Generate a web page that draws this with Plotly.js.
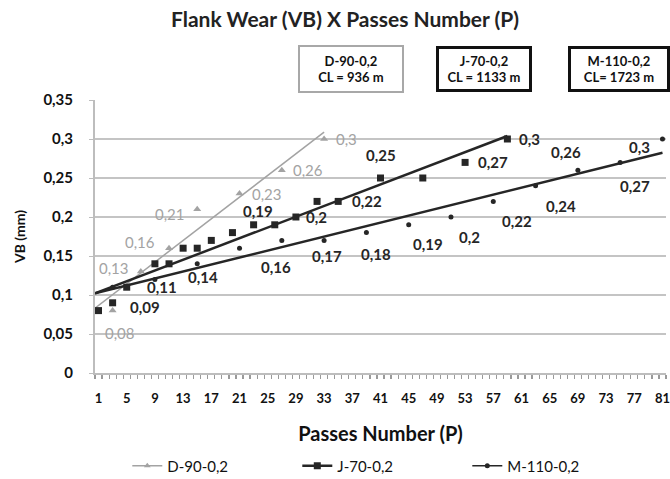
<!DOCTYPE html>
<html>
<head>
<meta charset="utf-8">
<script src="https://cdn.plot.ly/plotly-3.0.1.min.js"></script>
<style>
  html, body { margin: 0; padding: 0; background: #fff; }
  #chart { width: 670px; height: 479px; }
</style>
</head>
<body>
<div id="chart"></div>
<script>
// Flank wear VB (mm) measured against the number of passes, three tools.
const seriesNames = ['D-90-0,2', 'J-70-0,2', 'M-110-0,2'];

const passD = [3, 7, 11, 15, 21, 27, 33];
const vbD   = [0.08, 0.13, 0.16, 0.21, 0.23, 0.26, 0.30];

const passJ = [1, 3, 5, 9, 11, 13, 15, 17, 20, 23, 26, 29, 32, 35, 41, 47, 53, 59];
const vbJ   = [0.08, 0.09, 0.11, 0.14, 0.14, 0.16, 0.16, 0.17, 0.18, 0.19, 0.19, 0.20, 0.22, 0.22, 0.25, 0.25, 0.27, 0.30];

const passM = [3, 9, 15, 21, 27, 33, 39, 45, 51, 57, 63, 69, 75, 81];
const vbM   = [0.11, 0.12, 0.14, 0.16, 0.17, 0.17, 0.18, 0.19, 0.20, 0.22, 0.24, 0.26, 0.27, 0.30];

// which points carry a value label
const showD = [1, 1, 1, 1, 1, 1, 1];
const showJ = [0, 1, 1, 0, 0, 0, 0, 0, 0, 1, 0, 1, 0, 1, 1, 0, 1, 1];
const showM = [0, 0, 1, 1, 0, 1, 1, 1, 1, 1, 1, 1, 1, 1];

// tool-life boxes
const boxText = ['D-90-0,2<br>CL = 936 m', 'J-70-0,2<br>CL = 1133 m', 'M-110-0,2<br>CL= 1723 m'];

const xTickVals = [1, 5, 9, 13, 17, 21, 25, 29, 33, 37, 41, 45, 49, 53, 57, 61, 65, 69, 73, 77, 81];
const yTickVals = [0, 0.05, 0.1, 0.15, 0.2, 0.25, 0.3, 0.35];

// ---- label placement (pixel offsets from each point) ----
const offD = [[7, 22], [-27, -4], [-29, -6], [-27, 5], [27, 0], [26, 0], [22, 0]];
const offJ = [null, [32, 4], [35, 0], null, null, null, null, null, null, [4, -14], null, [21, 0], null, [29, 0], [0, -23], null, [28, 0], [22, 0]];
const offM = [null, null, [6, 13], [36, 19], null, [3, 16], [10, 21], [19, 19], [19, 20], [24, 20], [25, 20], [-12, -18], [15, 24], [-23, 8]];

const FONT = 'Lato, "Open Sans", Arial, sans-serif';
const GREY = '#a3a3a3';
const DARK = '#262626';

function fmt(v) { return String(+v.toFixed(2)).replace('.', ','); }

// least-squares line through a series, drawn from the axis start to the last pass
function trend(px, vy) {
  const n = px.length;
  const mx = px.reduce((a, b) => a + b, 0) / n;
  const my = vy.reduce((a, b) => a + b, 0) / n;
  let sxy = 0, sxx = 0;
  for (let i = 0; i < n; i++) { sxy += (px[i] - mx) * (vy[i] - my); sxx += (px[i] - mx) ** 2; }
  const b = sxy / sxx, a = my - b * mx;
  const x0 = 0.5, x1 = px[n - 1];
  return { x: [x0, x1], y: [a + b * x0, a + b * x1] };
}

const tD = trend(passD, vbD), tJ = trend(passJ, vbJ), tM = trend(passM, vbM);

const traces = [
  { x: tD.x, y: tD.y, mode: 'lines', line: { color: GREY, width: 1.5 }, showlegend: false, hoverinfo: 'skip' },
  { x: tJ.x, y: tJ.y, mode: 'lines', line: { color: DARK, width: 2.5 }, showlegend: false, hoverinfo: 'skip' },
  { x: tM.x, y: tM.y, mode: 'lines', line: { color: DARK, width: 2.5 }, showlegend: false, hoverinfo: 'skip' },
  { x: passD, y: vbD, mode: 'markers', name: seriesNames[0], showlegend: false,
    marker: { symbol: 'triangle-up', size: 7, color: GREY } },
  { x: passJ, y: vbJ, mode: 'markers', name: seriesNames[1], showlegend: false,
    marker: { symbol: 'square', size: 7, color: DARK } },
  { x: passM, y: vbM, mode: 'markers', name: seriesNames[2], showlegend: false,
    marker: { symbol: 'circle', size: 5, color: DARK } },
  // legend entries (line with marker)
  { x: [null], y: [null], mode: 'lines+markers', name: seriesNames[0],
    line: { color: GREY, width: 1.5 }, marker: { symbol: 'triangle-up', size: 6, color: GREY } },
  { x: [null], y: [null], mode: 'lines+markers', name: seriesNames[1],
    line: { color: DARK, width: 2.5 }, marker: { symbol: 'square', size: 7, color: DARK } },
  { x: [null], y: [null], mode: 'lines+markers', name: seriesNames[2],
    line: { color: DARK, width: 1.5 }, marker: { symbol: 'circle', size: 5, color: DARK } }
];

const annotations = [];
function addLabels(px, vy, show, off, color, bold) {
  for (let i = 0; i < px.length; i++) {
    if (!show[i]) continue;
    const t = fmt(vy[i]);
    annotations.push({
      x: px[i], y: vy[i], xref: 'x', yref: 'y', showarrow: false,
      xanchor: 'center', yanchor: 'middle',
      text: bold ? '<b>' + t + '</b>' : t,
      xshift: off[i][0], yshift: -off[i][1],
      font: { family: FONT, size: 15, color: color }
    });
  }
}
addLabels(passD, vbD, showD, offD, GREY, false);
addLabels(passJ, vbJ, showJ, offJ, DARK, true);
addLabels(passM, vbM, showM, offM, DARK, true);

// CL boxes above the plot: [x, y, border colour, border width, width, height]
const boxPos = [[0.449, 1.1136, '#a8a8a8', 2, 96, 38], [0.682, 1.1136, '#111', 3, 84, 34], [0.918, 1.1136, '#111', 3, 90, 34]];
boxText.forEach((t, i) => {
  annotations.push({
    x: boxPos[i][0], y: boxPos[i][1], xref: 'paper', yref: 'paper', showarrow: false,
    xanchor: 'center', yanchor: 'middle',
    text: '<b>' + t + '</b>', align: 'center',
    font: { family: FONT, size: 13, color: '#111' },
    bordercolor: boxPos[i][2], borderwidth: boxPos[i][3], borderpad: 3,
    bgcolor: '#fff', width: boxPos[i][4], height: boxPos[i][5]
  });
});

const layout = {
  width: 670, height: 479,
  margin: { l: 95, r: 4, t: 100, b: 106 },
  paper_bgcolor: '#fff', plot_bgcolor: '#fff',
  separators: ', ',
  font: { family: FONT, color: '#111' },
  title: {
    text: '<b>Flank Wear (VB) X Passes Number (P)</b>',
    font: { family: FONT, size: 21, color: '#222' },
    x: 0.515, xref: 'container', xanchor: 'center',
    y: 0.958, yref: 'container', yanchor: 'middle'
  },
  xaxis: {
    range: [0.5, 81.5], tickmode: 'array', tickvals: xTickVals,
    ticktext: xTickVals.map(v => '<b>' + v + '</b>'),
    tickfont: { family: FONT, size: 13, color: '#111' },
    ticklabeloverflow: 'allow',
    ticks: '', showgrid: false, zeroline: false,
    showline: true, linecolor: '#bdbdbd', linewidth: 2,
    minor: { tickmode: 'linear', tick0: 0.5, dtick: 1, ticks: 'outside', ticklen: 4, tickcolor: '#9a9a9a', tickwidth: 1.2 },
    ticklabelstandoff: 12,
    title: { text: '<b>Passes Number (P)</b>', font: { family: FONT, size: 20, color: '#111' }, standoff: 22 },
    fixedrange: true
  },
  yaxis: {
    range: [0, 0.35], tickmode: 'array', tickvals: yTickVals,
    ticktext: yTickVals.map(v => '<b>' + fmt(v) + '</b>'),
    tickfont: { family: FONT, size: 15, color: '#111' },
    ticks: 'outside', ticklen: 4, tickcolor: '#bdbdbd',
    ticklabelstandoff: 13,
    showgrid: true, gridcolor: '#c4c4c4', gridwidth: 2, zeroline: false,
    showline: true, linecolor: '#bdbdbd', linewidth: 2,
    title: { text: '<b>VB (mm)</b>', font: { family: FONT, size: 14, color: '#111' }, standoff: 14 },
    fixedrange: true
  },
  legend: {
    orientation: 'h', x: 0.19, xref: 'container', xanchor: 'left',
    y: 0.027, yref: 'container', yanchor: 'middle',
    font: { family: FONT, size: 15, color: '#111' },
    entrywidth: 125, entrywidthmode: 'pixels', itemwidth: 30,
    bgcolor: 'rgba(0,0,0,0)'
  },
  showlegend: true,
  annotations: annotations
};

Plotly.newPlot('chart', traces, layout, { staticPlot: true, displayModeBar: false });
</script>
</body>
</html>
